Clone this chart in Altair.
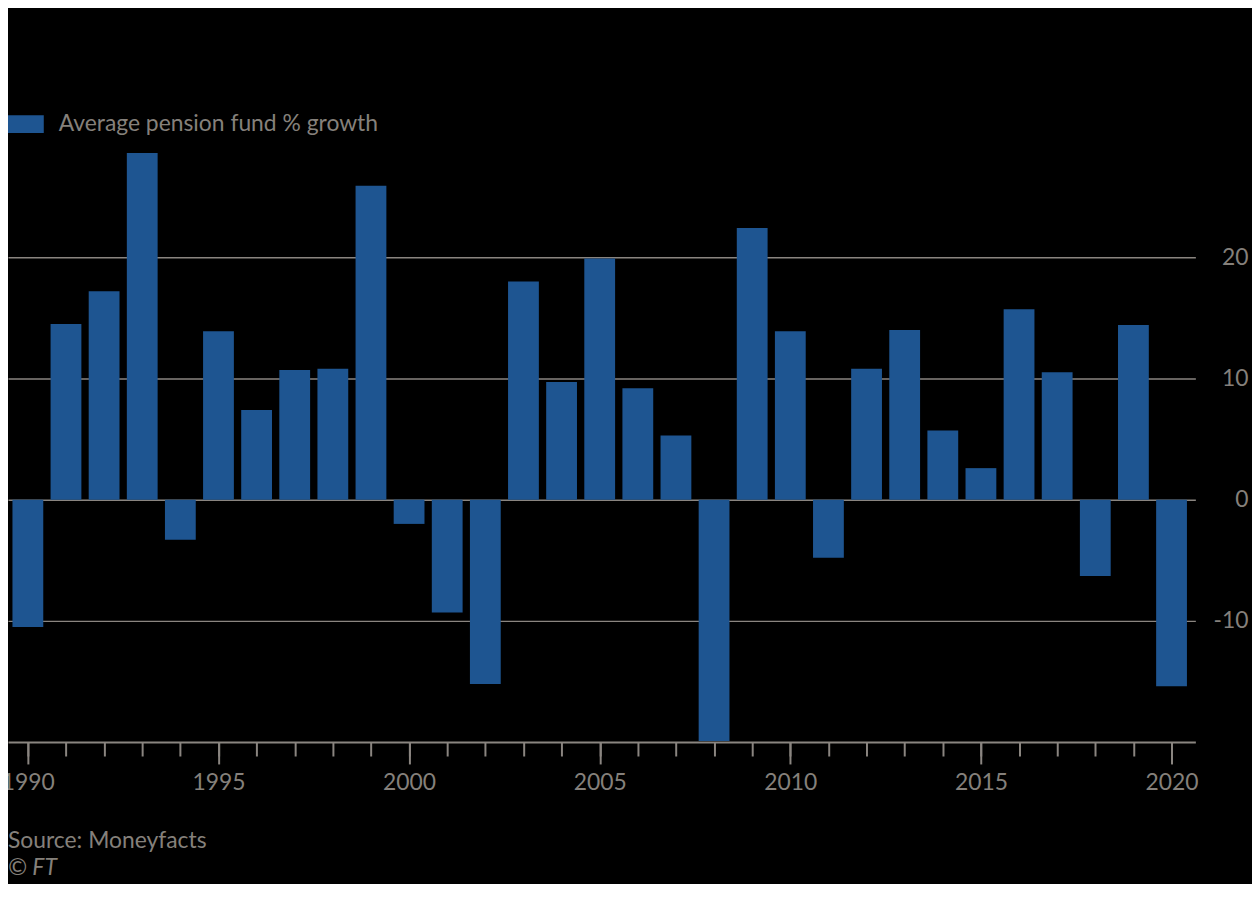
import altair as alt
import pandas as pd

years = list(range(1990, 2021))
growth = [-10.5, 14.5, 17.2, 28.6, -3.3, 13.9, 7.4, 10.7, 10.8, 25.9,
          -2.0, -9.3, -15.2, 18.0, 9.7, 19.9, 9.2, 5.3, -19.9, 22.4,
          13.9, -4.8, 10.8, 14.0, 5.7, 2.6, 15.7, 10.5, -6.3, 14.4, -15.4]
series_name = "Average pension fund % growth"
major_ticks = [1990, 1995, 2000, 2005, 2010, 2015, 2020]
y_ticks = [-10, 0, 10, 20]

df = pd.DataFrame({"year": years, "growth": growth, "series": series_name})

BAR = "#1e5591"
GRID = "#8a8580"
TEXT = "#85807b"
FONT = "Lato"

xscale = alt.Scale(domain=[1989.479, 2020.625], nice=False, zero=False, padding=0)
yscale = alt.Scale(domain=[-20, 30], nice=False)

bars = alt.Chart(df).mark_bar(size=31).encode(
    x=alt.X("year:Q", scale=xscale,
            axis=alt.Axis(orient="bottom", values=major_ticks, format="d",
                          title=None, grid=False,
                          tickSize=22, tickWidth=2, tickColor=GRID,
                          domain=True, domainColor=GRID, domainWidth=2,
                          labelFontSize=23, labelColor=TEXT, labelFont=FONT,
                          labelPadding=8, labelFlush=False)),
    y=alt.Y("growth:Q", scale=yscale,
            axis=alt.Axis(orient="right", values=y_ticks, title=None,
                          grid=True, gridColor=GRID, gridWidth=1.5,
                          domain=False, ticks=False,
                          labelExpr="'' + datum.value",
                          labelFontSize=23, labelColor=TEXT, labelFont=FONT,
                          labelAlign="right", labelPadding=53,
                          labelBaseline="middle")),
    color=alt.Color("series:N", scale=alt.Scale(range=[BAR]),
                    legend=alt.Legend(title=None, orient="none",
                                      legendX=0, legendY=-30,
                                      symbolType="M-1,-0.5L1,-0.5L1,0.5L-1,0.5Z",
                                      symbolSize=1296, symbolStrokeWidth=0,
                                      symbolOpacity=1,
                                      labelFontSize=23, labelColor=TEXT,
                                      labelFont=FONT, labelOffset=15,
                                      padding=0, labelLimit=600)),
)

minor = alt.Chart(df).mark_bar(opacity=0).encode(
    x=alt.X("year:Q", scale=xscale,
            axis=alt.Axis(orient="bottom", values=years, labels=False,
                          title=None, grid=False,
                          tickSize=14, tickWidth=2, tickColor=GRID,
                          domain=False)),
)

chart = alt.layer(minor, bars).resolve_axis(x="independent").properties(
    width=1195,
    height=610,
    autosize=alt.AutoSizeParams(type="none"),
    padding={"left": 0, "top": 126, "right": 57, "bottom": 140},
    background="#000000",
    title=alt.TitleParams(
        text="Source: Moneyfacts",
        subtitle="© FT",
        orient="bottom",
        anchor="start",
        frame="group",
        offset=36,
        font=FONT,
        fontSize=23,
        fontWeight="normal",
        color=TEXT,
        subtitleFont=FONT,
        subtitleFontSize=23,
        subtitleFontStyle="italic",
        subtitleColor=TEXT,
        subtitlePadding=4,
    ),
).configure_view(stroke=None)

chart.save("out.html", embed_options={"renderer": "svg", "actions": False})
